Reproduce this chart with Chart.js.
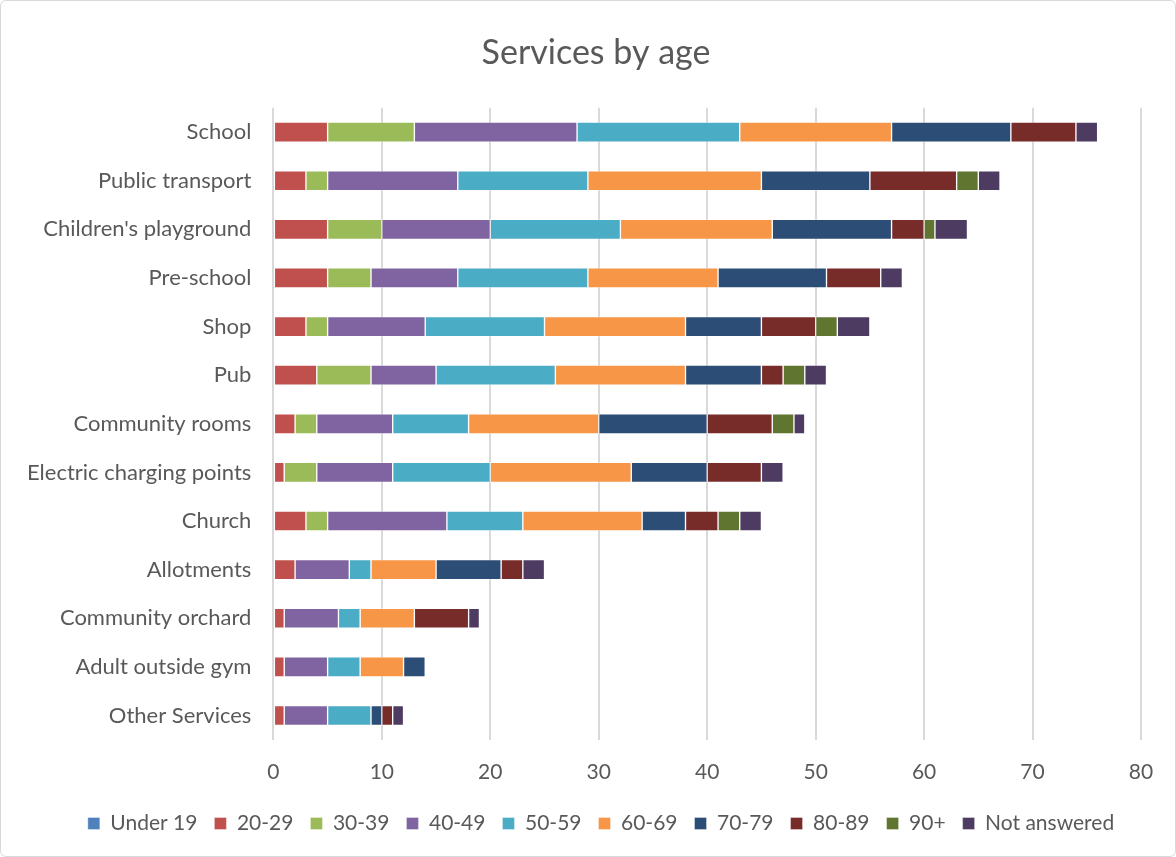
<!DOCTYPE html>
<html>
<head>
<meta charset="utf-8">
<script src="https://cdn.jsdelivr.net/npm/chart.js@4.4.1/dist/chart.umd.min.js"></script>
<style>
	html, body { margin: 0; padding: 0; background: #fff; }
	#wrap {
		position: absolute; left: 0; top: 0;
		width: 1174px; height: 855px;
		border: 1px solid #d9d9d9; border-radius: 6px;
	}
</style>
</head>
<body>
<div id="wrap"><canvas id="chart" width="1174" height="855"></canvas></div>
<script>
// categories, top to bottom
const services = [
	'School',
	'Public transport',
	"Children's playground",
	'Pre-school',
	'Shop',
	'Pub',
	'Community rooms',
	'Electric charging points',
	'Church',
	'Allotments',
	'Community orchard',
	'Adult outside gym',
	'Other Services',
];

// counts per age band, same order as services
const under19 = [0, 0, 0, 0, 0, 0, 0, 0, 0, 0, 0, 0, 0];
const age20s = [5, 3, 5, 5, 3, 4, 2, 1, 3, 2, 1, 1, 1];
const age30s = [8, 2, 5, 4, 2, 5, 2, 3, 2, 0, 0, 0, 0];
const age40s = [15, 12, 10, 8, 9, 6, 7, 7, 11, 5, 5, 4, 4];
const age50s = [15, 12, 12, 12, 11, 11, 7, 9, 7, 2, 2, 3, 4];
const age60s = [14, 16, 14, 12, 13, 12, 12, 13, 11, 6, 5, 4, 0];
const age70s = [11, 10, 11, 10, 7, 7, 10, 7, 4, 6, 0, 2, 1];
const age80s = [6, 8, 3, 5, 5, 2, 6, 5, 3, 2, 5, 0, 1];
const age90plus = [0, 2, 1, 0, 2, 2, 2, 0, 2, 0, 0, 0, 0];
const notAnswered = [2, 2, 3, 2, 3, 2, 1, 2, 2, 2, 1, 0, 1];

const xTicks = [0, 10, 20, 30, 40, 50, 60, 70, 80];

const series = [
	['Under 19', under19, '#4F81BD'],
	['20-29', age20s, '#C0504D'],
	['30-39', age30s, '#9BBB59'],
	['40-49', age40s, '#8064A2'],
	['50-59', age50s, '#4BACC6'],
	['60-69', age60s, '#F79646'],
	['70-79', age70s, '#2C4D75'],
	['80-89', age80s, '#772C2A'],
	['90+', age90plus, '#5F7530'],
	['Not answered', notAnswered, '#4D3B62'],
];

const textColor = '#595959';
const fontFamily = 'Lato, "Open Sans", sans-serif';

// title and legend sit centred on the whole frame, not on the padded area
const centreShift = {
	id: 'centreShift',
	afterLayout(chart) {
		const move = (box, dx) => {
			if (!box) return;
			box.left += dx;
			box.right += dx;
		};
		move(chart.titleBlock, 19);
		move(chart.legend, 24);
	},
};

new Chart(document.getElementById('chart').getContext('2d'), {
	type: 'bar',
	data: {
		labels: services,
		datasets: series.map(([label, data, color]) => ({
			label,
			data,
			backgroundColor: color,
			borderColor: 'rgba(255, 255, 255, 0.35)',
			borderWidth: 1,
			borderSkipped: false,
			barThickness: 20,
		})),
	},
	plugins: [centreShift],
	options: {
		indexAxis: 'y',
		responsive: false,
		animation: false,
		layout: { padding: { left: 12, right: 34, top: 8, bottom: 12 } },
		plugins: {
			title: {
				display: true,
				text: 'Services by age',
				color: textColor,
				font: { family: fontFamily, size: 34, weight: 'normal' },
				padding: { top: 24, bottom: 34 },
			},
			legend: {
				position: 'bottom',
				labels: {
					color: textColor,
					font: { family: fontFamily, size: 21 },
					boxWidth: 12,
					boxHeight: 12,
					padding: 17,
				},
			},
			tooltip: { enabled: false },
		},
		scales: {
			x: {
				stacked: true,
				min: 0,
				max: 80,
				afterBuildTicks: (scale) => {
					scale.ticks = xTicks.map(v => ({ value: v }));
				},
				afterFit: (scale) => {
					scale.height -= 9;
				},
				grid: { color: '#d9d9d9', lineWidth: 2, drawTicks: false },
				border: { display: false },
				ticks: {
					color: textColor,
					font: { family: fontFamily, size: 21 },
					padding: 20,
				},
			},
			y: {
				stacked: true,
				grid: { display: false },
				border: { display: false },
				ticks: {
					color: textColor,
					font: { family: fontFamily, size: 22 },
					padding: 14,
				},
			},
		},
	},
});
</script>
</body>
</html>
